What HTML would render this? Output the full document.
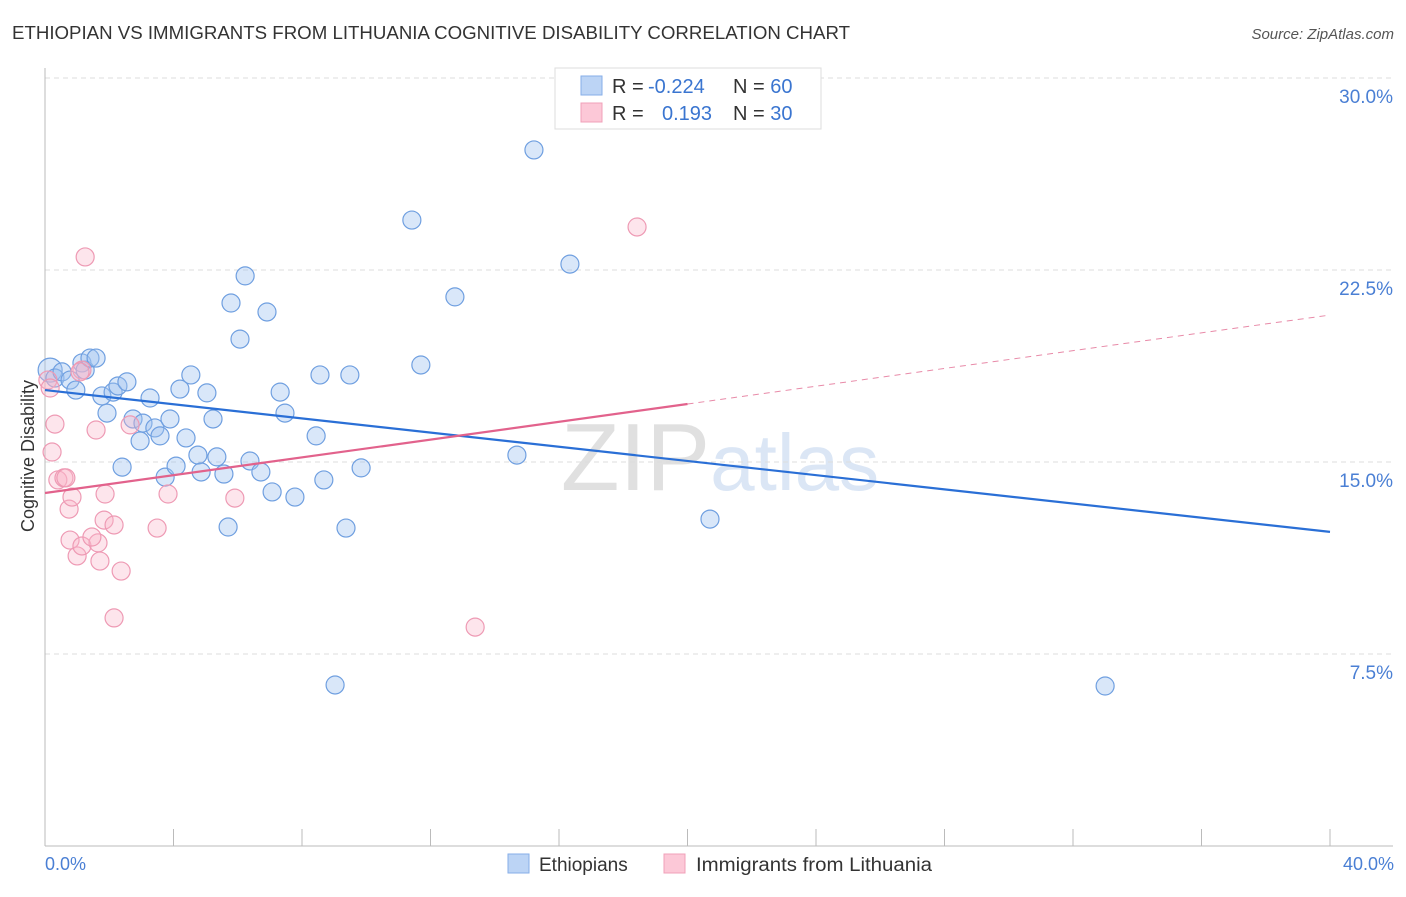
<!DOCTYPE html>
<html><head><meta charset="utf-8"><style>
body{margin:0;background:#fff;font-family:"Liberation Sans",sans-serif;}
svg text{font-family:"Liberation Sans",sans-serif;}
</style></head><body>
<svg id="c" width="1406" height="892">
<text x="12" y="39" font-size="18" fill="#333" textLength="838" lengthAdjust="spacingAndGlyphs">ETHIOPIAN VS IMMIGRANTS FROM LITHUANIA COGNITIVE DISABILITY CORRELATION CHART</text>
<text x="1394" y="39" font-size="15" fill="#555" font-style="italic" text-anchor="end">Source: ZipAtlas.com</text>
<text x="720" y="490" font-size="96" fill="#e4e4e4" text-anchor="middle" font-family="Liberation Serif"><tspan fill="#e0e0e0">ZIP</tspan><tspan fill="#dbe6f5" font-family="Liberation Sans" font-size="80">atlas</tspan></text>
<g id="grid"></g>
<line x1="45" y1="68" x2="45" y2="846" stroke="#bbb"/>
<line x1="45" y1="846" x2="1393" y2="846" stroke="#bbb"/>
<text transform="translate(34,456) rotate(-90)" font-size="18" fill="#333" text-anchor="middle">Cognitive Disability</text>
<text x="45" y="870" font-size="18" fill="#4a7fd4">0.0%</text>
<text x="1394" y="870" font-size="18" fill="#4a7fd4" text-anchor="end">40.0%</text>
<g id="pts"></g>
<g id="lines"></g>
<g>
<rect x="555" y="68" width="266" height="61" fill="#fff" stroke="#ddd"/>
<rect x="581" y="76" width="21" height="19" fill="#bcd4f5" stroke="#86aee8"/>
<rect x="581" y="103" width="21" height="19" fill="#fcc8d7" stroke="#f0a0b8"/>
<text x="612" y="93" font-size="20" fill="#333">R = <tspan fill="#3a75d0" x="648">-0.224</tspan></text>
<text x="733" y="93" font-size="20" fill="#333">N = <tspan fill="#3a75d0">60</tspan></text>
<text x="612" y="120" font-size="20" fill="#333">R = <tspan fill="#3a75d0" x="662">0.193</tspan></text>
<text x="733" y="120" font-size="20" fill="#333">N = <tspan fill="#3a75d0">30</tspan></text>
</g>
<g>
<rect x="508" y="854" width="21" height="19" fill="#bcd4f5" stroke="#86aee8"/>
<text x="539" y="871" font-size="19" fill="#333">Ethiopians</text>
<rect x="664" y="854" width="21" height="19" fill="#fcc8d7" stroke="#f0a0b8"/>
<text x="696" y="871" font-size="19" fill="#333" textLength="236" lengthAdjust="spacingAndGlyphs">Immigrants from Lithuania</text>
</g>
</svg>
<script>
const yTicks=[7.5,15,22.5,30];
const xTicks=[0,4,8,12,16,20,24,28,32,36,40];
const bluePx=[[50,370],[55,378],[62,372],[70,380],[76,390],[82,363],[85,370],[90,358],[96,358],[107,413],[102,396],[113,392],[118,386],[127,382],[122,467],[133,419],[140,441],[143,423],[150,398],[155,428],[160,436],[165,477],[170,419],[176,466],[180,389],[186,438],[191,375],[198,455],[201,472],[207,393],[213,419],[217,457],[224,474],[228,527],[231,303],[240,339],[245,276],[250,461],[261,472],[267,312],[272,492],[280,392],[285,413],[295,497],[316,436],[320,375],[324,480],[346,528],[350,375],[335,685],[361,468],[412,220],[421,365],[455,297],[517,455],[534,150],[570,264],[710,519],[1105,686]];
const pinkPx=[[48,380],[50,388],[55,424],[52,452],[58,480],[64,478],[66,478],[69,509],[72,497],[70,540],[77,556],[82,546],[85,257],[82,370],[96,430],[98,543],[92,537],[100,561],[105,494],[104,520],[114,525],[114,618],[121,571],[130,425],[157,528],[168,494],[235,498],[475,627],[637,227],[80,372]];
const blueX=bluePx.map(p=>+((p[0]-45)/32.125).toFixed(2));
const blueY=bluePx.map(p=>+(7.5+(654-p[1])/25.6).toFixed(2));
const pinkX=pinkPx.map(p=>+((p[0]-45)/32.125).toFixed(2));
const pinkY=pinkPx.map(p=>+(7.5+(654-p[1])/25.6).toFixed(2));
const blueTrend=[17.81,12.27];
const pinkTrend=[13.79,20.74];
const X=v=>45+v*32.125, Y=v=>654-(v-7.5)*25.6;
const NS="http://www.w3.org/2000/svg";
function mk(t,a,p){const e=document.createElementNS(NS,t);for(const k in a)e.setAttribute(k,a[k]);document.getElementById(p).appendChild(e);return e;}
yTicks.forEach(v=>{
 const l=mk('line',{x1:45,x2:1393,y1:Y(v),y2:Y(v),stroke:'#ddd','stroke-dasharray':'5,4'},'grid');
 
 
 const t=mk('text',{x:1393,y:Y(v)+25,'font-size':19,fill:'#4a7fd4','text-anchor':'end'},'grid');
 t.textContent=v.toFixed(1)+'%';
 
 
});
xTicks.forEach(v=>{
 const l=mk('line',{x1:X(v),x2:X(v),y1:829,y2:846,stroke:'#bbb'},'grid');
 
 
});
blueX.forEach((x,i)=>{
 const c=mk('circle',{cx:X(x),cy:Y(blueY[i]),r:i==0?12:9,fill:'rgba(160,195,240,0.4)',stroke:'#6f9fe0','stroke-width':1.2},'pts');
 
 
});
pinkX.forEach((x,i)=>{
 const c=mk('circle',{cx:X(x),cy:Y(pinkY[i]),r:9,fill:'rgba(250,180,200,0.35)',stroke:'#ee9ab4','stroke-width':1.2},'pts');
 
 
});
const bl=mk('line',{x1:X(0),y1:Y(blueTrend[0]),x2:X(40),y2:Y(blueTrend[1]),stroke:'#2a6fd6','stroke-width':2.2},'lines');


const pm=pinkTrend[0]+(pinkTrend[1]-pinkTrend[0])*20/40;
const pl=mk('line',{x1:X(0),y1:Y(pinkTrend[0]),x2:X(20),y2:Y(pm),stroke:'#e2628c','stroke-width':2.2},'lines');


const pd=mk('line',{x1:X(20),y1:Y(pm),x2:X(40),y2:Y(pinkTrend[1]),stroke:'#e88aa8','stroke-width':1,'stroke-dasharray':'6,5'},'lines');


</script>
</body></html>
